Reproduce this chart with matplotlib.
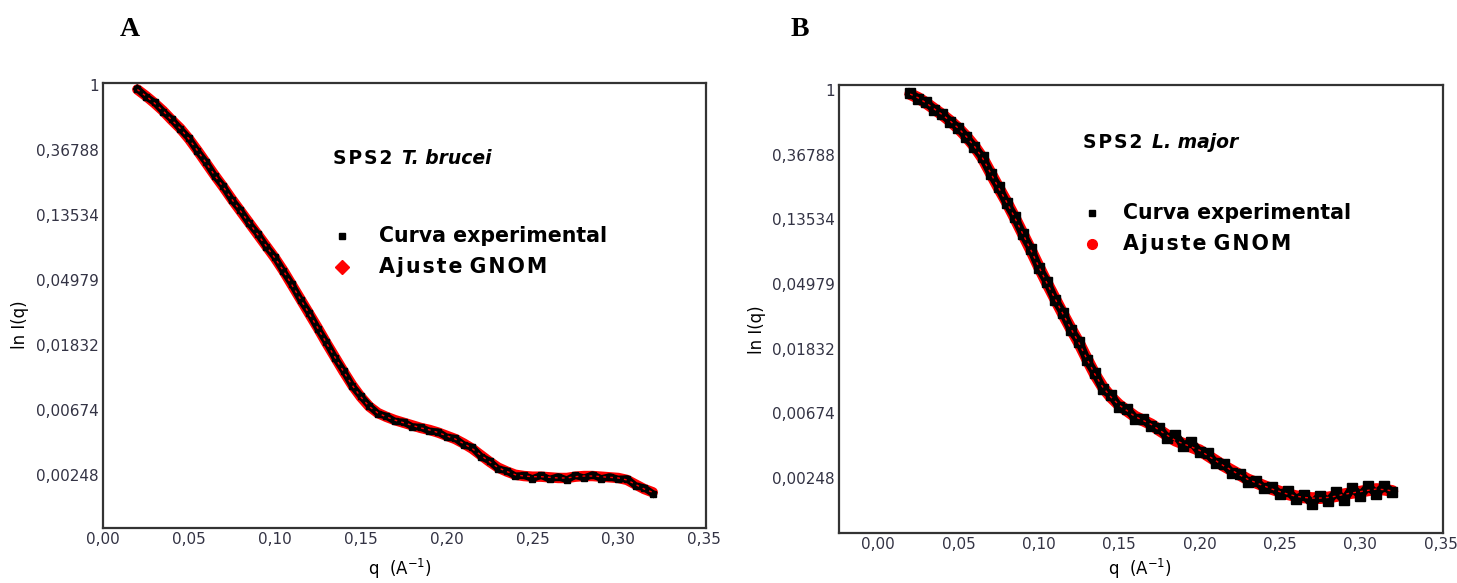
import numpy as np
import matplotlib
matplotlib.use("Agg")
import matplotlib.pyplot as plt

# q grid (A^-1), shared by both panels
q = [0.020, 0.025, 0.030, 0.035, 0.040, 0.045, 0.050, 0.055, 0.060, 0.065,
     0.070, 0.075, 0.080, 0.085, 0.090, 0.095, 0.100, 0.105, 0.110, 0.115,
     0.120, 0.125, 0.130, 0.135, 0.140, 0.145, 0.150, 0.155, 0.160, 0.165,
     0.170, 0.175, 0.180, 0.185, 0.190, 0.195, 0.200, 0.205, 0.210, 0.215,
     0.220, 0.225, 0.230, 0.235, 0.240, 0.245, 0.250, 0.255, 0.260, 0.265,
     0.270, 0.275, 0.280, 0.285, 0.290, 0.295, 0.300, 0.305, 0.310, 0.315,
     0.320]

# panel A - SPS2 T. brucei (ln I)
exp_A = [-0.06, -0.18, -0.27, -0.41, -0.53, -0.68, -0.82, -1.02, -1.19, -1.40,
         -1.56, -1.77, -1.93, -2.13, -2.29, -2.49, -2.65, -2.87, -3.07, -3.31,
         -3.51, -3.75, -3.96, -4.20, -4.40, -4.63, -4.79, -4.94, -5.06, -5.10,
         -5.18, -5.19, -5.26, -5.27, -5.33, -5.34, -5.42, -5.44, -5.54, -5.58,
         -5.72, -5.79, -5.91, -5.94, -6.02, -6.01, -6.06, -6.01, -6.07, -6.03,
         -6.08, -6.01, -6.05, -6.00, -6.06, -6.03, -6.07, -6.06, -6.17, -6.20,
         -6.29]
fit_A = [-0.07, -0.17, -0.28, -0.40, -0.54, -0.67, -0.83, -1.01, -1.20, -1.39,
         -1.57, -1.76, -1.94, -2.12, -2.30, -2.48, -2.66, -2.86, -3.08, -3.30,
         -3.52, -3.74, -3.97, -4.19, -4.41, -4.62, -4.80, -4.95, -5.05, -5.11,
         -5.16, -5.20, -5.24, -5.28, -5.31, -5.35, -5.40, -5.45, -5.52, -5.60,
         -5.70, -5.80, -5.89, -5.95, -6.00, -6.02, -6.03, -6.03, -6.04, -6.05,
         -6.05, -6.03, -6.02, -6.02, -6.03, -6.04, -6.05, -6.08, -6.15, -6.22,
         -6.27]

# panel B - SPS2 L. major (ln I)
exp_B = [-0.05, -0.13, -0.19, -0.30, -0.37, -0.49, -0.58, -0.73, -0.88, -1.04,
         -1.29, -1.50, -1.75, -1.96, -2.23, -2.45, -2.75, -2.96, -3.24, -3.44,
         -3.71, -3.89, -4.18, -4.38, -4.63, -4.72, -4.90, -4.93, -5.08, -5.09,
         -5.20, -5.23, -5.38, -5.33, -5.50, -5.44, -5.60, -5.62, -5.77, -5.78,
         -5.92, -5.93, -6.06, -6.04, -6.16, -6.14, -6.25, -6.20, -6.33, -6.26,
         -6.40, -6.27, -6.36, -6.22, -6.34, -6.15, -6.27, -6.13, -6.24, -6.12,
         -6.22]
fit_B = [-0.06, -0.12, -0.20, -0.29, -0.38, -0.48, -0.59, -0.72, -0.87, -1.05,
         -1.28, -1.51, -1.73, -1.97, -2.22, -2.47, -2.73, -2.98, -3.22, -3.46,
         -3.69, -3.91, -4.16, -4.40, -4.60, -4.75, -4.87, -4.96, -5.05, -5.11,
         -5.17, -5.26, -5.34, -5.42, -5.47, -5.52, -5.57, -5.65, -5.73, -5.81,
         -5.88, -5.95, -6.02, -6.07, -6.12, -6.17, -6.21, -6.25, -6.28, -6.30,
         -6.31, -6.31, -6.30, -6.28, -6.25, -6.23, -6.21, -6.19, -6.17, -6.18,
         -6.20]

y_ticks = [0, -1, -2, -3, -4, -5, -6]
x_ticks = [0.00, 0.05, 0.10, 0.15, 0.20, 0.25, 0.30, 0.35]

plt.rcParams['font.family'] = ['DejaVu Sans']
plt.rcParams['mathtext.default'] = 'regular'

fig = plt.figure(figsize=(14.57, 5.83), dpi=100)
W, H = 1457, 583
HS = "\u200a"  # hair space, for the spaced-out lettering


def make_axes(l, t, r, b):
    return fig.add_axes([l / W, 1 - b / H, (r - l) / W, (b - t) / H])


def style_axes(ax, xlim, ylim):
    ax.set_xlim(*xlim)
    ax.set_ylim(*ylim)
    ax.set_yticks(y_ticks)
    ax.set_yticklabels(["1" if t == 0 else f"{np.exp(t):.5f}".replace(".", ",") for t in y_ticks])
    ax.set_xticks(x_ticks)
    ax.set_xticklabels([f"{t:.2f}".replace(".", ",") for t in x_ticks])
    ax.tick_params(length=0, labelsize=11, labelcolor="#333344", pad=3)
    for s in ax.spines.values():
        s.set_linewidth(1.6)
        s.set_color("#333333")


def draw(ax, exp, fit, ms, lw, title_b, fit_marker, lay):
    ax.plot(q, fit, color="red", lw=lw + 2.5, solid_capstyle="round", zorder=1)
    ax.plot(q, exp, color="black", lw=lw, marker="s", ms=ms, mec="black", zorder=2)
    ax.plot(q, fit, color="red", lw=1, ls=(0, (2, 3)), zorder=3)

    tx, ty, mx, my1, my2, lx = lay
    t1 = ax.text(tx, ty, HS.join("SPS2"), transform=ax.transAxes, fontsize=13.5,
                 fontweight="bold", va="center", ha="left")
    ax.annotate(title_b, xy=(1, 0), xycoords=t1, xytext=(7, 0),
                textcoords="offset points", fontsize=13.5, fontweight="bold",
                fontstyle="italic", va="bottom", ha="left")
    ax.plot([mx], [my1], marker="s", ms=5, color="black", ls="none",
            transform=ax.transAxes, clip_on=False)
    ax.plot([mx], [my2], marker=fit_marker, ms=7, color="red", ls="none",
            transform=ax.transAxes, clip_on=False)
    ax.text(lx, my1, "Curva experimental", transform=ax.transAxes, fontsize=14.8,
            fontweight="bold", va="center", ha="left")
    ax.text(lx, my2, HS.join("Ajuste") + " " + HS.join("GNOM"), transform=ax.transAxes,
            fontsize=14.8, fontweight="bold", va="center", ha="left")


axA = make_axes(103, 83, 706, 528)
style_axes(axA, (0, 0.351), (-6.82, 0.03))
draw(axA, exp_A, fit_A, 5, 5, "T. brucei", "D",
     (0.381, 0.831, 0.396, 0.656, 0.587, 0.458))

axB = make_axes(839, 85, 1443, 533)
style_axes(axB, (-0.0243, 0.3515), (-6.85, 0.08))
draw(axB, exp_B, fit_B, 6.5, 6, "L. major", "o",
     (0.404, 0.871, 0.419, 0.714, 0.645, 0.470))

# axis labels and panel letters
for x, y in [(20, 325), (757, 330)]:
    fig.text(x / W, 1 - y / H, "ln I(q)", rotation=90, fontsize=12,
             ha="center", va="center")
for x, y in [(400, 569), (1140, 569)]:
    fig.text(x / W, 1 - y / H, "q  (A$^{-1}$)", fontsize=12,
             ha="center", va="center")
for x, s in [(130, "A"), (800, "B")]:
    fig.text(x / W, 1 - 30 / H, s, fontsize=20, fontweight="bold",
             family="Liberation Serif", ha="center", va="center")

fig.savefig("out.png", dpi=100)
